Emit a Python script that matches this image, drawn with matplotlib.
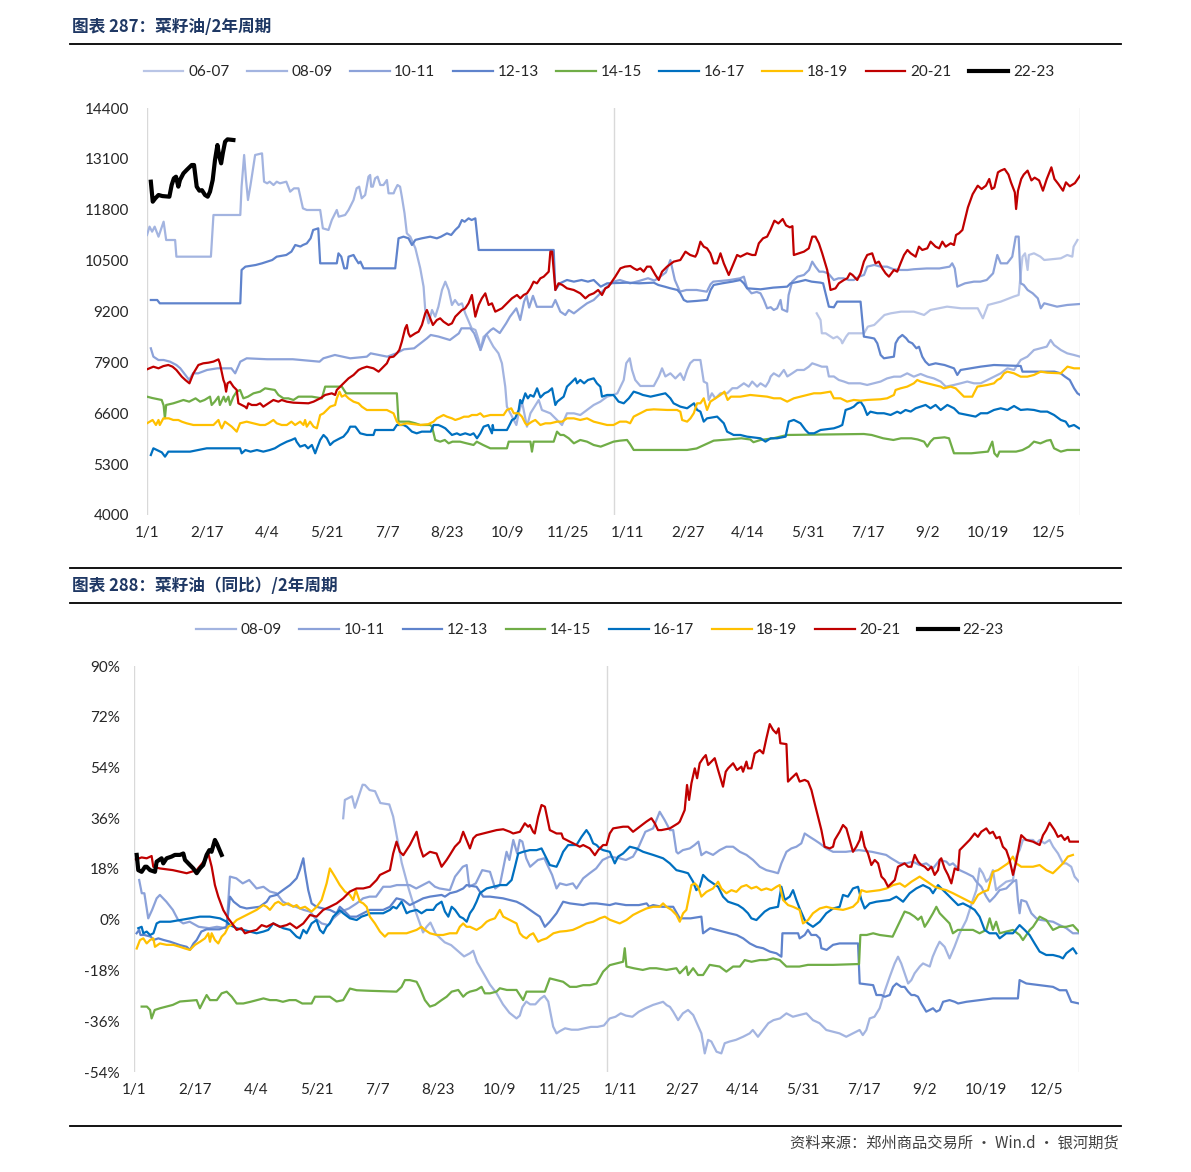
import matplotlib
matplotlib.use('Agg')
import matplotlib.pyplot as plt
from matplotlib.lines import Line2D

plt.rcParams['font.family'] = ['Lato', 'Noto Sans CJK SC', 'DejaVu Sans']

# ---- 数据：交易日序号(0-730, 两年周期) 与 价格 ----
tick_days = [0, 47, 94, 141, 188, 235, 282, 329, 376, 423, 470, 517, 564, 611, 658, 705]
tick_labels = ['1/1', '2/17', '4/4', '5/21', '7/7', '8/23', '10/9', '11/25',
               '1/11', '2/27', '4/14', '5/31', '7/17', '9/2', '10/19', '12/5']
series_names = ['06-07', '08-09', '10-11', '12-13', '14-15', '16-17', '18-19', '20-21', '22-23']

price_0607 = [(524, 9154), (527, 8983), (528, 8643), (531, 8643), (535, 8558), (537, 8515), (540, 8558),
              (543, 8472), (544, 8387), (547, 8558), (549, 8643), (561, 8643), (564, 8813), (569, 8856),
              (573, 8983), (577, 9111), (582, 9154), (590, 9196), (600, 9196), (608, 9111), (613, 9239),
              (626, 9324), (637, 9282), (650, 9282), (654, 9026), (658, 9367), (668, 9452), (678, 9580),
              (682, 9622), (685, 10602), (687, 10687), (689, 10261), (690, 10644), (694, 10687),
              (699, 10602), (702, 10516), (715, 10559), (720, 10644), (724, 10602), (725, 10857), (728, 11027)]

price_0809 = [(0, 11155), (2, 11368), (4, 11240), (6, 11368), (9, 11112), (13, 11495), (15, 11027), (22, 11027),
              (23, 10601), (50, 10601), (52, 11666), (73, 11666), (74, 12390), (76, 13199), (77.5, 12560),
              (79, 12049), (81, 12432), (84.6, 13199), (90, 13241), (91.6, 12517), (94, 12475), (96, 12517),
              (99, 12432), (101.5, 12517), (104, 12475), (109, 12517), (112, 12262), (115, 12347), (118.5, 12347),
              (122, 11836), (125, 11794), (135.5, 11794), (137.6, 11325), (142, 11283), (144.6, 11538),
              (148.5, 11794), (150, 11623), (155, 11666), (157.7, 11794), (161.6, 12049), (164, 12347),
              (166, 12390), (168, 12092), (170.7, 12177), (173.3, 12645), (174.6, 12688), (175.4, 12390),
              (176.7, 12390), (178.5, 12603), (180.4, 12645), (182.5, 12432), (185, 12432), (187.7, 12560),
              (189, 12220), (193, 12220), (194, 12305), (196, 12432), (198, 12390), (199.4, 12134),
              (201.5, 11708), (203.3, 11197), (206, 11112), (210, 10814), (213.8, 10303), (216.4, 9834),
              (217.7, 9238), (220.3, 8898), (223, 9238), (225.5, 9068), (228, 9323), (230.8, 9749),
              (233.4, 9962), (236, 9749), (238.6, 9366), (241, 9494), (243.8, 9366), (246.4, 9409),
              (249, 9153), (254, 8770), (257, 8727), (259.5, 8472), (260.8, 8216), (263.4, 8557), (266, 8600),
              (271, 8302), (275, 8131), (277.7, 7876), (280.3, 7280), (281.6, 6769), (284.3, 6598),
              (289, 6300), (290.8, 6598), (293.4, 6896), (297.3, 6257), (300, 6598), (306.5, 6939),
              (309, 6683), (315.6, 6598), (320.8, 6428), (324.7, 6300), (328.6, 6598), (334, 6598),
              (339, 6555), (344.3, 6683), (349.5, 6811), (354.7, 6896), (360, 7024), (365, 7070),
              (368, 7110), (373, 7450), (375, 7880), (377.7, 8004), (379.5, 7706), (382, 7450), (386, 7297),
              (396.5, 7297), (400.5, 7540), (403, 7748), (405.6, 7540), (409.5, 7620), (413.4, 7490),
              (417.3, 7620), (420, 7450), (422.6, 7706), (425, 7880), (427.8, 7961), (433, 7961),
              (435.6, 7410), (438.2, 7365), (439.5, 6939), (442, 7110), (444.7, 6980), (448.7, 7110),
              (454, 7110), (458, 7240), (461.7, 7240), (467, 7365), (470.8, 7280), (473.5, 7410),
              (477.4, 7280), (480, 7365), (484, 7280), (486.5, 7410), (488, 7540), (490.4, 7620),
              (494.5, 7540), (498.3, 7706), (501, 7540), (504.8, 7620), (508.7, 7706), (514, 7706),
              (517.8, 7790), (520.5, 7876), (524.4, 7833), (528, 7790), (532, 7790), (533.5, 7540),
              (537.4, 7540), (541.3, 7450), (545.3, 7410), (549, 7365), (558, 7365), (563.5, 7323),
              (568.7, 7365), (574, 7410), (579, 7490), (584.4, 7535), (589.6, 7535), (594.8, 7620),
              (600, 7535), (605.3, 7604), (610.5, 7535), (615.7, 7490), (621, 7410), (625, 7280),
              (631.4, 7323), (636.6, 7365), (641.8, 7410), (647, 7365), (652.3, 7365), (657.5, 7450),
              (662.7, 7535), (668, 7620), (673.2, 7748), (678.4, 7706), (683.6, 7961), (688.8, 8046),
              (694, 8216), (699, 8259), (704, 8302), (707, 8472), (709.7, 8344), (715, 8216), (720, 8131),
              (725.3, 8089), (730, 8046)]

price_1011 = [(3, 8259), (5, 8046), (9, 7960), (13, 7961), (18, 7918), (23, 7833), (26, 7750), (30, 7578),
              (33, 7450), (36, 7620), (40, 7620), (47, 7706), (55, 7748), (66, 7748), (69, 7620), (73, 7918),
              (78, 8004), (94, 7980), (114, 7980), (135, 7918), (138, 8004), (147, 8089), (159, 8004),
              (172, 8046), (175, 8131), (188, 8046), (195, 8131), (201, 8233), (209, 8259), (214, 8387),
              (219, 8514), (222, 8600), (228, 8560), (237, 8472), (244, 8642), (246, 8770), (253, 8770),
              (256, 8642), (258, 8472), (261, 8216), (265, 8600), (269, 8727), (271, 8770), (276, 8650),
              (281, 8898), (284, 9068), (289, 9281), (292, 8983), (295, 9450), (297, 9605), (299, 9300),
              (302, 9600), (305, 9320), (317, 9320), (319.5, 9494), (323.4, 9196), (327.3, 9111),
              (330, 9238), (334, 9153), (339, 9281), (344.3, 9409), (349.5, 9494), (354.7, 9664),
              (360, 9834), (365, 9963), (370, 10005), (378, 9920), (385, 9980), (392, 10050), (397, 9990),
              (402, 10100), (406, 10200), (409.5, 10516), (413, 10005), (417, 9707), (422, 9750), (430, 9750),
              (438, 9707), (441, 9900), (443, 9963), (455, 10000), (464, 10048), (467, 10090), (469.5, 9800),
              (473, 9665), (477, 9700), (480, 9665), (482.6, 9495), (485.2, 9282), (488, 9310), (490.4, 9239),
              (493, 9280), (495.7, 9495), (496.9, 9256), (500.9, 9196), (502, 9620), (504.8, 9963),
              (509, 10090), (514, 10133), (518, 10261), (520.5, 10474), (523, 10346), (526, 10218),
              (529, 10218), (533, 10176), (537.4, 10005), (541, 10048), (545, 10048), (549, 10005),
              (553, 10005), (557, 10090), (561, 10133), (563.5, 10346), (569, 10390), (574, 10346),
              (579, 10346), (584, 10280), (589.6, 10261), (595, 10261), (600, 10280), (610, 10300),
              (620, 10300), (628, 10346), (630, 10431), (632, 10300), (634, 9835), (640, 9920), (647, 9963),
              (652, 9963), (657, 10005), (662, 10176), (665.3, 10644), (668, 10431), (673, 10431),
              (677, 10600), (679.7, 11113), (682, 11113), (683.6, 9920), (686, 9878), (689, 9750),
              (693, 9665), (697, 9537), (699.3, 9282), (702, 9410), (707, 9367), (712, 9324), (720, 9367),
              (730, 9392)]

price_1213 = [(3, 9494), (8, 9494), (10, 9409), (73, 9409), (74, 10261), (77, 10346), (85, 10388), (90, 10431),
              (98, 10516), (101.5, 10601), (109, 10644), (113, 10730), (116, 10899), (120, 10860),
              (122, 10899), (125, 10940), (128, 11070), (130, 11283), (134, 11325), (135.5, 10431),
              (148.5, 10431), (149.8, 10686), (152, 10601), (154.3, 10303), (156.4, 10303), (157.7, 10601),
              (161.6, 10644), (163, 10560), (165.5, 10431), (167, 10474), (169.4, 10303), (194.2, 10303),
              (196.8, 11070), (200.7, 11112), (204.6, 11070), (207.3, 10899), (210, 11030), (215, 11070),
              (221.6, 11112), (226.8, 11070), (230, 11112), (234.7, 11197), (238, 11155), (241.2, 11283),
              (244, 11370), (246.4, 11538), (248.5, 11494), (251.6, 11580), (254, 11538), (256.9, 11580),
              (259.5, 10772), (318.2, 10772), (319.5, 9749), (323, 9920), (328.6, 10005), (334, 9963),
              (340, 10005), (345, 9963), (349.5, 10005), (355, 9835), (360, 9920), (376, 9937), (385, 9920),
              (396.5, 9937), (400, 9878), (405, 9835), (409.5, 9793), (415, 9750), (417.3, 9665),
              (420, 9495), (422.6, 9452), (430, 9470), (438.2, 9495), (441, 9750), (443.4, 9878),
              (450, 9920), (458, 9963), (464.3, 10005), (467, 9920), (469.5, 9793), (480, 9767),
              (490, 9810), (500.9, 9835), (503.5, 9920), (510, 9963), (515.2, 10005), (520, 9963),
              (527, 9937), (529, 9920), (530.9, 9665), (533.5, 9324), (537.4, 9307), (540, 9452),
              (558.3, 9452), (560.9, 8558), (566, 8530), (569, 8510), (571.4, 8387), (574, 8089),
              (576.6, 8004), (584.4, 8046), (585.7, 8387), (588, 8520), (591, 8600), (594, 8515),
              (596, 8430), (598.8, 8387), (602, 8260), (604, 8300), (606.6, 8046), (609, 7920),
              (611.8, 7833), (617, 7876), (624, 7833), (631.4, 7748), (634, 7578), (636.6, 7706),
              (645, 7750), (652.3, 7791), (662.7, 7833), (683.6, 7808), (685, 7663), (710, 7663),
              (714.9, 7620), (718, 7540), (722, 7450), (725.4, 7237), (728, 7110), (730, 7067)]

price_1415 = [(0, 7024), (4, 6990), (11.5, 6939), (13, 6800), (14, 6470), (15, 6811), (20.6, 6854), (25, 6900),
              (28.5, 6939), (33, 6896), (38, 6981), (41.5, 6896), (45, 6939), (49.3, 7024), (50.6, 6811),
              (53, 6896), (55.9, 7024), (57, 6811), (60, 7024), (61.5, 6896), (63.7, 7024), (65, 6811),
              (67.6, 7024), (70.2, 7152), (72.8, 7195), (75.4, 6981), (79, 7024), (83.3, 7109), (88.5, 7152),
              (92.4, 7237), (100, 7195), (102.8, 7067), (106.8, 6981), (110.6, 6981), (114.6, 6939),
              (118.5, 7024), (129, 7024), (136.8, 6981), (139.4, 7280), (152.4, 7280), (155.8, 7109),
              (195.5, 7109), (196.8, 6385), (205, 6385), (210, 6343), (213.8, 6300), (221.6, 6300),
              (223, 6257), (225.5, 5917), (229.4, 5874), (233, 5917), (236, 5832), (239, 5874),
              (245, 5874), (250, 5832), (255.5, 5789), (258, 5874), (263, 5789), (268.6, 5704),
              (281.6, 5704), (283, 5874), (300, 5874), (301.2, 5619), (302.5, 5874), (318.2, 5874),
              (320.8, 6130), (323.4, 6045), (326, 6045), (330, 5960), (334, 5832), (339, 5917),
              (344.3, 5874), (349.5, 5789), (355, 5747), (360, 5810), (365, 5874), (370, 5900),
              (375.6, 5917), (378, 5810), (380.8, 5662), (422.6, 5662), (430, 5700), (436, 5790),
              (443.4, 5900), (455, 5930), (465, 5960), (472, 5930), (474.5, 5860), (480, 5917),
              (490, 5960), (500.9, 6045), (560.9, 6070), (567, 6045), (576, 5960), (584, 5917),
              (590, 5960), (598, 5960), (603, 5930), (608, 5874), (610.5, 5747), (613, 5874),
              (615.7, 5960), (624, 5985), (627.5, 5960), (631.4, 5577), (645, 5577), (658, 5620),
              (661.4, 5875), (663, 5577), (665.3, 5492), (667, 5620), (680, 5620), (685, 5660),
              (690, 5747), (694, 5875), (699, 5830), (704, 5900), (707, 5917), (709.7, 5704),
              (715, 5620), (720, 5662), (730, 5662)]

price_1617 = [(3, 5533), (5, 5704), (9, 5640), (11.6, 5600), (14.1, 5491), (16.7, 5619), (33.7, 5619),
              (46.7, 5704), (72.8, 5704), (74.1, 5576), (77, 5660), (81, 5619), (86, 5660), (91, 5619),
              (96, 5660), (100, 5704), (104.2, 5789), (109.4, 5874), (113, 5917), (115.9, 5960),
              (117, 5874), (119.8, 5747), (123.6, 5789), (126, 5704), (129, 5789), (131.6, 5576),
              (133, 5704), (135.5, 5917), (138.1, 6045), (140.7, 5960), (143.3, 5789), (146, 5874),
              (148.5, 5917), (151, 5960), (153.7, 6002), (157, 6130), (159, 6257), (163, 6257),
              (164, 6215), (166.8, 6087), (172, 6045), (177.2, 6045), (178.5, 6172), (192.9, 6172),
              (195.5, 6300), (200.7, 6300), (203.3, 6257), (207.3, 6130), (211, 6087), (215, 6130),
              (222, 6130), (224.2, 6300), (228, 6300), (231, 6257), (233.4, 6215), (236, 6130),
              (238.6, 6045), (242.5, 6087), (245, 6045), (249, 6087), (252.9, 6045), (255.5, 6087),
              (258.2, 5960), (260.8, 6087), (263.4, 6257), (267, 6300), (269.9, 6087), (270.5, 6300),
              (271.2, 6172), (281.6, 6172), (283, 6257), (285.6, 6428), (288, 6470), (290.8, 6683),
              (292, 6939), (293.4, 6854), (296, 7109), (298, 6981), (299.9, 7067), (302.5, 7024),
              (305.2, 7237), (307.8, 7003), (311, 7109), (314, 7152), (316.9, 7237), (319.5, 6811),
              (321, 6896), (326, 7024), (328.6, 7280), (331.3, 7365), (335.2, 7492), (336.5, 7365),
              (339, 7450), (342, 7365), (345, 7450), (349.5, 7492), (352, 7365), (354.7, 7280),
              (356, 7024), (360, 7067), (365, 7067), (369, 6897), (373, 6854), (377, 6982), (380.8, 7152),
              (384.8, 7110), (388, 7067), (394, 7024), (400, 7067), (405.6, 7110), (409.5, 6982),
              (412, 6854), (417.3, 6769), (422.6, 6727), (428, 6854), (430.4, 6684), (433, 6642),
              (435.6, 6386), (438.2, 6470), (446.1, 6514), (448.7, 6430), (451.3, 6344), (453.9, 6130),
              (459, 6045), (464.3, 6045), (469.5, 6002), (480, 5960), (483.9, 5875), (488, 5960),
              (493, 5960), (499.6, 6002), (502.2, 6386), (506.1, 6430), (511.3, 6344), (515.2, 6172),
              (517.8, 6088), (522, 6088), (527, 6172), (537.4, 6215), (541.3, 6258), (544, 6300),
              (546.6, 6684), (550.5, 6727), (553, 6769), (555.7, 6854), (558.3, 6897), (560.9, 6769),
              (563.5, 6556), (566, 6640), (571.4, 6600), (576.6, 6600), (581.8, 6556), (587, 6640),
              (589.6, 6600), (593.5, 6684), (597.5, 6642), (601.4, 6727), (605.3, 6769), (609.2, 6812),
              (613, 6727), (617, 6812), (621, 6684), (626.2, 6812), (631.4, 6727), (635.3, 6600),
              (641.8, 6556), (648.3, 6514), (652.3, 6600), (657.5, 6600), (662.7, 6684), (668, 6727),
              (673.2, 6684), (678.4, 6785), (683.6, 6684), (688.8, 6700), (694, 6684), (699.2, 6642),
              (704.4, 6642), (709.7, 6556), (715, 6428), (718.8, 6386), (721.4, 6258), (725.3, 6300),
              (729.3, 6215)]

price_1819 = [(0, 6343), (4.4, 6428), (7, 6300), (9, 6428), (10, 6300), (12.8, 6470), (17, 6470), (20.6, 6428),
              (24.5, 6428), (27.2, 6385), (31, 6343), (36.3, 6300), (52, 6300), (55.9, 6428), (57.2, 6300),
              (58.5, 6215), (61, 6385), (66.3, 6257), (70.2, 6130), (72.8, 6343), (78, 6385), (83.3, 6343),
              (88.5, 6300), (92.4, 6300), (95, 6343), (98.9, 6428), (101.5, 6343), (105.4, 6300),
              (109.4, 6300), (113, 6385), (115.9, 6300), (119.8, 6385), (122.4, 6300), (123.7, 6428),
              (125, 6257), (127.6, 6385), (130.3, 6257), (132.9, 6215), (135.5, 6555), (138.1, 6598),
              (140.7, 6683), (143.3, 6768), (147.2, 6811), (148.5, 6981), (150.6, 7152), (152.4, 7024),
              (155, 7067), (157.7, 6981), (161.6, 6896), (165.5, 6854), (168.1, 6768), (172, 6683),
              (187.7, 6683), (192.9, 6598), (195.5, 6385), (198.1, 6300), (203.3, 6343), (213.8, 6300),
              (220, 6320), (224.2, 6385), (226.8, 6470), (232, 6555), (234.7, 6512), (238.6, 6470),
              (241.2, 6428), (245.1, 6470), (248, 6512), (251.6, 6512), (254.2, 6555), (258.2, 6555),
              (260.8, 6598), (263.4, 6512), (268.6, 6555), (279, 6555), (281.6, 6683), (285, 6726),
              (287, 6600), (290.8, 6598), (293.4, 6512), (296, 6343), (297.3, 6300), (301.2, 6385),
              (303.8, 6428), (307.8, 6300), (311.7, 6343), (315.6, 6343), (320.8, 6385), (324.7, 6385),
              (328.6, 6470), (333.9, 6470), (339, 6428), (344.3, 6470), (349.5, 6385), (354.7, 6343),
              (360, 6300), (365, 6300), (370, 6386), (375, 6386), (378, 6344), (380.8, 6514), (386, 6600),
              (391, 6684), (396.5, 6700), (407, 6684), (414.7, 6684), (417.3, 6640), (418.7, 6428),
              (422.6, 6386), (425.2, 6470), (427.8, 6600), (430.4, 6854), (433, 6854), (435.6, 6982),
              (438.2, 6684), (440.8, 6897), (444.7, 6982), (448.7, 7067), (451.8, 7152), (454.3, 6940),
              (456.9, 7024), (464.3, 7024), (472, 7067), (480, 7040), (485.2, 7024), (490.4, 6982),
              (495.7, 6982), (500.9, 6897), (506.1, 6982), (511.3, 7024), (516.5, 7067), (521.8, 7110),
              (527, 7110), (534.8, 7152), (537.4, 6982), (542.6, 6982), (547.8, 6897), (553, 6940),
              (558.3, 6922), (563.5, 6940), (573.9, 6957), (579.1, 6982), (584.4, 7067), (585.7, 7195),
              (589.6, 7237), (594.8, 7280), (600, 7365), (602.7, 7450), (605.3, 7410), (610.5, 7365),
              (615.7, 7323), (621, 7280), (623.5, 7237), (628.8, 7280), (632.7, 7237), (636.6, 7110),
              (639.2, 7024), (645.7, 7024), (647, 7110), (649.7, 7280), (657.5, 7323), (662.7, 7365),
              (665.3, 7450), (667.9, 7493), (670.6, 7620), (673.2, 7663), (678.4, 7620), (683.6, 7535),
              (688.8, 7535), (694, 7578), (699.2, 7663), (704.4, 7637), (714.9, 7620), (720.2, 7791),
              (725.3, 7748), (730, 7748)]

price_2021 = [(0, 7722), (5, 7790), (9, 7748), (12.8, 7805), (16.7, 7833), (20, 7790), (23, 7705), (27.2, 7535),
              (30, 7450), (33.2, 7365), (36.3, 7620), (40.2, 7833), (44, 7876), (48, 7892), (52, 7920),
              (55.9, 7977), (57, 7876), (59.8, 7450), (60.8, 7365), (61.9, 7152), (63, 7365), (65, 7407),
              (67.6, 7280), (70.2, 7195), (71.5, 6854), (74.1, 6811), (76.7, 6768), (78, 6726),
              (79.3, 6854), (82, 6811), (85.7, 6811), (88.5, 6854), (91, 6768), (95, 6854), (98.9, 6939),
              (102.8, 6896), (105.4, 6939), (109.4, 6896), (114.6, 6870), (126.3, 6854), (130.3, 6896),
              (132.9, 6939), (135.5, 6981), (139.4, 7067), (144.6, 7109), (147.2, 7067), (148.5, 7195),
              (151.1, 7280), (155, 7407), (157.7, 7492), (161.6, 7578), (165.5, 7706), (168.1, 7748),
              (172, 7790), (177.2, 7748), (181.2, 7663), (182.5, 7706), (185.1, 7790), (187.7, 7876),
              (189.8, 8029), (192.9, 8046), (195.5, 8131), (197.4, 8216), (199.4, 8429), (202, 8770),
              (203.3, 8855), (204.6, 8642), (205.9, 8557), (209.9, 8642), (212.5, 8685), (215.1, 8855),
              (217.7, 9153), (219, 9238), (221.6, 9025), (223.7, 8855), (226.8, 8983), (229.4, 9025),
              (232, 8940), (235.9, 8855), (238.6, 8898), (241.2, 9068), (246.4, 9238), (249, 9281),
              (251.6, 9409), (254.2, 9622), (256.9, 9068), (259.5, 9366), (262, 9536), (264.7, 9664),
              (267.3, 9366), (269.9, 9409), (272.5, 9196), (277.7, 9281), (281.6, 9409), (285.5, 9536),
              (289.5, 9622), (292.1, 9536), (294.7, 9622), (297.3, 9664), (299.9, 9792), (302.5, 9962),
              (305.1, 9920), (307.8, 10048), (310.4, 10090), (313, 10176), (314.3, 10218), (315.6, 10729),
              (317, 10729), (318.2, 10261), (319.5, 9749), (322, 9920), (325, 9878), (328.6, 9792),
              (333.9, 9750), (339, 9664), (343, 9537), (346, 9620), (349.5, 9664), (353, 9750),
              (356, 9622), (358.6, 9792), (361, 9830), (366.4, 10091), (370.4, 10303), (374, 10346),
              (378.2, 10363), (381, 10300), (383.4, 10261), (386, 10303), (388.6, 10218), (391.2, 10346),
              (394, 10346), (397.8, 10133), (400.4, 10005), (403, 10218), (406.9, 10346), (412.1, 10474),
              (417.3, 10516), (421.3, 10729), (425, 10644), (429, 10601), (430.4, 10687), (433, 10984),
              (435.6, 10857), (438.2, 10814), (440.8, 10687), (443.4, 10431), (446, 10431), (448.7, 10687),
              (451.3, 10431), (455.2, 10133), (459, 10431), (461.7, 10644), (464.3, 10601), (469.5, 10687),
              (473.5, 10644), (476, 10644), (478.7, 10942), (482, 11070), (485.2, 11113), (487.8, 11283),
              (490.9, 11521), (494, 11450), (497.4, 11563), (500, 11400), (503, 11350), (505, 11380),
              (506.1, 10644), (510, 10687), (514, 10729), (517.8, 10814), (520.5, 11113), (523, 11113),
              (525.7, 10942), (528.3, 10687), (532.2, 10261), (534.8, 9750), (538.7, 9792), (541.3, 9920),
              (545.3, 10005), (547.9, 10048), (550, 10176), (552, 10133), (555.7, 10005), (558.3, 10176),
              (560.9, 10474), (563.5, 10644), (567.4, 10687), (570, 10431), (572.6, 10474), (575.3, 10303),
              (577.9, 10176), (580.5, 10091), (584.4, 10261), (587, 10218), (589.6, 10431), (592.3, 10644),
              (595, 10772), (597.5, 10687), (601.4, 10601), (604, 10857), (606.6, 10772), (610.5, 10814),
              (613.1, 10985), (617, 10857), (619.8, 10814), (622.3, 10985), (624.9, 10857), (628.8, 10942),
              (631.4, 10900), (633, 11155), (635.3, 11198), (638, 11283), (642.3, 11861), (646, 12197),
              (650, 12415), (653, 12330), (656.4, 12415), (659, 12586), (661, 12330), (663, 12370),
              (665.8, 12756), (668, 12800), (671, 12841), (674, 12700), (676, 12500), (679, 12245),
              (680, 11819), (681.5, 12287), (684, 12586), (686, 12700), (689, 12800), (692, 12550),
              (694.5, 12620), (698, 12550), (701, 12287), (704, 12586), (707.6, 12884), (710, 12586),
              (713, 12460), (716.7, 12287), (719, 12500), (722, 12400), (726, 12480), (730, 12671)]

price_2223 = [(3, 12517), (4.5, 12006), (6.5, 12092), (9, 12177), (12, 12150), (17.5, 12134), (19.3, 12432),
              (21, 12602), (22.7, 12645), (24.5, 12390), (25.8, 12560), (28.5, 12730), (31, 12815),
              (35, 12943), (36.8, 12943), (38.9, 12390), (41, 12287), (43, 12300), (45.4, 12177),
              (47.5, 12134), (49.3, 12262), (51.4, 12560), (53.2, 13071), (55.1, 13454), (56.6, 13156),
              (58, 12986), (59.3, 13241), (61.1, 13539), (63, 13599), (67.6, 13582)]

# ---- 同比(%) ----
yoy_0809 = [(161.6, 36), (162.9, 42.5), (168.4, 43.8), (170.6, 39.7), (176.6, 47.9), (178.4, 47.8), (182, 46),
            (186.2, 45.6), (190.3, 41.4), (197.2, 40.9), (200.2, 36.6), (206.8, 20.2), (212.3, 10.8),
            (217.8, 2.6), (223.3, -4.5), (226, -2.5), (229, -1), (233, -5), (240, -8), (245, -9), (250, -11),
            (255, -13), (259.5, -11.9), (262, -11), (265, -15), (270, -19), (275, -23), (280, -26), (285, -30),
            (290, -33), (295.5, -35), (298, -34), (300, -31), (303, -29), (306, -30), (310, -30), (314, -28),
            (317, -27), (320, -29), (323.8, -37.9), (326.4, -40.3), (329, -39.5), (333, -38.5), (338, -39),
            (343, -39), (348, -38.5), (353, -38), (358, -38), (363, -37.5), (367.5, -35), (372, -34.4),
            (376, -33.2), (380, -34), (385, -34.4), (390, -32.6), (395, -31.4), (401, -30.2), (408.7, -29.1),
            (411.5, -30.3), (414, -30.9), (416.5, -32.6), (420.3, -35.6), (424, -33.2), (428, -32),
            (432, -33.8), (436, -37.9), (438.3, -40.3), (440.9, -47.4), (443.5, -42.6), (446, -43.2),
            (450, -46.8), (453.7, -47.4), (456.3, -43.8), (460, -43.2), (465, -42.6), (470.5, -41.5),
            (475.6, -40.3), (478, -39.1), (482, -41.5), (486, -39.1), (490, -36.7), (494, -35.6), (499, -35),
            (504, -33.2), (509, -34.4), (514, -33.8), (519.4, -33.2), (524.5, -35.6), (529.6, -36.7),
            (534.8, -39.1), (540, -39.7), (545, -40.3), (550.2, -41.5), (555.4, -40.3), (560.5, -39.1),
            (563, -40.9), (565.7, -39.1), (568.3, -35), (572, -34.4), (576, -31.4), (580, -25.2),
            (583.8, -20.2), (587.6, -15.5), (590.2, -13.1), (592.7, -15.5), (595.3, -19), (598, -22.6),
            (600.5, -21.4), (603, -19), (607, -16.6), (609.5, -15.5), (614.7, -16.6), (617, -13.1),
            (619.8, -10.1), (622.3, -7.8), (626.2, -9.6), (630, -13.7), (633.8, -9.6), (637.8, -4.8),
            (643, -0.1), (648, 7), (650.7, 10.5), (653.2, 18.2), (655.8, 16.4), (658.4, 13.5), (661, 14.7),
            (663.5, 17.6), (666, 10.5), (668.7, 11.7), (673.8, 13.5), (679, 14.1), (681.5, 22.4),
            (684.1, 24.7), (686.7, 28.3), (694.5, 28.3), (697, 27.1), (699.6, 28.3), (703.4, 27.1),
            (707.3, 28.3), (710, 25.9), (713.8, 23.5), (717.6, 20), (720.2, 20), (724, 18.8), (726.6, 15.3),
            (730, 13.5)]

yoy_1011 = [(4, 14.1), (6, 9.4), (8, 9.4), (11, 0.5), (14, 3.5), (17.5, 7.6), (20, 8.8), (25, 6.4), (30, 3.5),
            (34, 0), (38, -1.3), (43, -0.7), (50, -2.5), (58, -3), (64, -2.5), (71.5, -3), (74.1, 15.3),
            (79, 14.7), (84, 12.9), (89, 14.1), (94.7, 11.1), (100, 11.7), (105, 10), (110, 9.4), (115, 6.4),
            (120, 5.2), (125, 4.6), (131, 3.5), (136, 2.9), (140, 0.5), (145, -1.3), (150, -1.9), (154, 0.5),
            (160, 2.9), (166, 4), (172, 5.8), (177, 7.6), (182, 8.2), (187, 8.2), (192.5, 11.7), (198, 11.7),
            (203, 12.3), (213, 12.3), (218, 11.1), (223, 12.3), (228, 13.5), (232.5, 11.7), (236, 11.1),
            (244, 10.5), (248, 15.3), (254, 18.8), (257, 19.4), (259, 11.7), (264, 12.9), (269, 17.6),
            (275, 17), (279, 11.1), (282.6, 12.3), (287.8, 24.1), (290, 21.2), (293, 28.3), (296, 23.5),
            (298, 28.3), (300, 27.7), (303, 21.8), (306, 18.8), (312, 21.2), (317, 21.8), (320, 18.8),
            (323, 15.9), (326.4, 11.1), (329, 12.9), (334, 12.3), (339, 12.9), (341.8, 11.1), (347, 14.7),
            (352, 16.5), (357, 18.2), (362, 21.2), (367.5, 22.4), (375, 21.8), (380, 21.2), (385.5, 22.4),
            (390, 26), (395, 31.2), (401, 32.4), (406.1, 38.3), (410, 35.3), (414, 31.8), (416.5, 31.8),
            (419, 24.1), (420.3, 23.5), (424, 24.7), (429.3, 25.3), (433, 26.5), (436, 27.7), (438.3, 22.9),
            (442, 24.1), (447.3, 23), (452.4, 24.7), (457.6, 25.9), (462.8, 25.9), (468, 24.1), (473.1, 23),
            (478.2, 21.2), (483.4, 18.8), (488.5, 17.6), (493.7, 17), (497.5, 16.5), (500.1, 20), (504, 24.1),
            (507.8, 25.3), (511.7, 25.9), (515.5, 27.1), (518.1, 30.6), (522, 29.4), (525.8, 28.3),
            (529.7, 27.1), (534.8, 25.3), (540, 24.1), (550, 24.1), (560, 24.7), (570, 24.1), (581, 23),
            (584.9, 21.8), (591.4, 20), (596.5, 20), (601.7, 20.6), (606.9, 19.4), (612, 20), (617.2, 18.2),
            (622.4, 21.2), (627.5, 20.6), (630, 19.4), (632.6, 20), (637.8, 17.6), (643, 16.5), (648.1, 15.3),
            (650.7, 13.5), (654.5, 11.7), (658.4, 8.2), (661, 6.4), (664.8, 8.2), (668.7, 10.5),
            (673.8, 11.1), (679, 13.5), (681.5, 14.1), (682.8, 7), (684.1, 2.3), (685.4, 7), (689.3, 6.4),
            (693.2, 2.3), (697, 0.5), (699.6, 0), (709.9, -0.7), (715, -1.9), (720.2, -3), (725.3, -4.8),
            (730, -4.8)]

yoy_1213 = [(2, -4.8), (4, -3.6), (5, -5.4), (8, -5.4), (13, -6), (15, -7.2), (18.8, -6.6), (23, -7.2),
            (28, -7.8), (35.5, -9), (40.7, -9.6), (43.2, -10.7), (46, -8.4), (48.4, -7.2), (52, -4.2),
            (56, -3.4), (66, -3.4), (71.6, -2.5), (74.1, 8.2), (77, 6.4), (82, 4.6), (87, 4), (97, 4.6),
            (102.5, 6.4), (105, 8.2), (110, 8.8), (115, 10.5), (120.5, 12.3), (125.6, 14.7), (128, 17.6),
            (130.8, 21.8), (132, 17.6), (134.6, 10.5), (137.2, 5.8), (141, 4.6), (146, 4), (151.3, 3.5),
            (156.5, 2.3), (159, 4.6), (161.6, 3.5), (166.8, 1.1), (172, 1.1), (177, 2.3), (182.2, 3.5),
            (192.5, 3.5), (197.7, 4.6), (202.8, 7.6), (208, 7), (213, 5.2), (218.3, 6.4), (223.4, 7.6),
            (228.6, 8.2), (237.6, 8.8), (240.2, 8.2), (244, 9.4), (249.2, 10), (254.3, 11.1), (256.9, 12.3),
            (264.6, 11.7), (269.8, 8.2), (275, 8.2), (285, 7.6), (290.3, 7), (295.5, 6.4), (300.6, 5.2),
            (305.8, 3.5), (309.6, 2.3), (313.5, 1.1), (317.4, -2.5), (321.2, -0.7), (326.4, 2.3),
            (331.5, 6.4), (336.7, 5.8), (347, 5.2), (352.2, 5.8), (357.3, 5.8), (367.5, 5.2), (372, 5.8),
            (380, 5.2), (390, 5.2), (396, 5.8), (398, 4.6), (401, 5.2), (408, 4.6), (416.5, 4.6),
            (421.6, 0.5), (430, 0.5), (438.3, 1.1), (439.6, -4.8), (445, -3), (450, -3.6), (455, -4.2),
            (460, -4.8), (465.5, -5.4), (470.6, -6.6), (475.7, -8.4), (480.9, -9.6), (486, -10.1),
            (491.2, -11.3), (496.3, -11.9), (500.1, -13.1), (500.9, -4.8), (513, -4.8), (514.2, -6.6),
            (518.1, -5.4), (520.6, -3.6), (523.2, -5.4), (527, -5.4), (529.7, -6.6), (531, -10.1),
            (535, -10.7), (540, -8.9), (545, -8.4), (559.3, -8.4), (560.6, -22.6), (571, -23.2),
            (573.5, -26.7), (577.3, -26.7), (580, -27.3), (583.8, -26.7), (586.3, -23.8), (589, -22.6),
            (592.7, -23.8), (595.3, -23.8), (598, -25.5), (600.5, -26.7), (603, -26.7), (605.6, -27.3),
            (608.2, -29.7), (612, -32.6), (614.7, -32), (617.2, -31.4), (619.8, -32.6), (622.4, -32),
            (625, -29.1), (630, -28.5), (634, -29.1), (636.6, -29.7), (643, -29.1), (653, -28.5),
            (663.5, -27.9), (682.8, -27.9), (684.1, -21.4), (689.3, -22.6), (699.6, -23.2), (709.9, -23.8),
            (715, -25), (720.2, -25), (724, -29.1), (730, -29.7)]

yoy_1415 = [(5.9, -30.8), (10, -30.8), (12.4, -32), (13.6, -35), (16, -32), (20, -31.4), (25, -30.8), (30, -30.2),
            (35.5, -29), (48.4, -28.5), (50.9, -31.4), (53.5, -29), (56.1, -26.7), (58.7, -28.5), (64, -28.5),
            (67.7, -26.1), (71.6, -25.5), (75.5, -27.3), (79.3, -29.7), (84.4, -29.7), (90, -29.1),
            (95, -28.5), (100, -27.9), (105, -28.5), (110, -28.5), (115, -29.1), (120, -28.5), (125, -28.5),
            (130, -29.7), (137.2, -29.7), (139.8, -27.3), (151.3, -27.3), (156.5, -29), (161.6, -28.5),
            (166.8, -24.4), (172, -25), (182, -25.2), (202.8, -25.5), (206.7, -23.8), (209.3, -21.4),
            (213, -21.4), (218.3, -22), (221, -24.4), (224.7, -28.5), (228.6, -30.8), (232.5, -30.2),
            (237.6, -28.5), (241.5, -27.3), (245.4, -25.5), (250.5, -24.9), (254.3, -27.3), (257, -26.1),
            (259.5, -25.5), (264.6, -24.9), (268.5, -23.8), (271, -26.1), (275, -26.1), (280, -25.5),
            (282.6, -24.3), (288, -24.9), (295.5, -24.9), (300.6, -28.5), (303.2, -25.5), (317.4, -25.5),
            (321.2, -20.8), (326.4, -21.4), (331.5, -22), (336.7, -23.8), (341.8, -23.8), (347, -23.2),
            (352.2, -23.2), (357.3, -22.6), (362.4, -18.4), (367.5, -16.1), (372.5, -15.5), (377.8, -14.9),
            (379.1, -10.1), (380.4, -16.6), (386, -17.2), (393, -17.8), (398.4, -17.2), (403.5, -17.2),
            (411.3, -17.8), (419, -17.2), (421.6, -19), (426.7, -16.6), (428, -19.6), (431.9, -17.2),
            (435.7, -19.6), (439.6, -19.6), (444.7, -16), (452.4, -16.6), (457.6, -18.4), (462.8, -16.6),
            (468, -16.6), (471.8, -14.3), (477, -14.9), (483.4, -14.3), (488.5, -14.3), (493.7, -13.7),
            (498.8, -14.3), (504, -16.6), (514, -16.6), (520.6, -16), (540, -16), (560.1, -15.7),
            (561.1, -5.4), (566, -5.4), (571, -4.8), (576, -5.4), (586, -6), (591.5, -0.7), (595.3, 2.9),
            (599, 2.3), (603, 1.1), (605.6, 0), (608.2, 1.1), (610.8, -2.5), (613.4, -0.7), (617.2, 2.3),
            (619.8, 4.6), (622.4, 2.3), (626.2, 0.5), (630, -1.3), (632.6, -4.8), (636.4, -3.6),
            (648.1, -3.6), (653.2, -4.8), (658.4, -3.6), (661, 0.5), (663.5, -3.6), (666, -0.7),
            (668.7, -4.8), (673.8, -4.2), (679, -3.6), (684.1, -5.4), (686.7, -7.2), (692, -3.6),
            (694.5, -2.5), (699.6, 1.1), (704.7, -0.1), (709.9, -3.6), (715, -2.5), (720.2, -2.5),
            (725.3, -1.9), (730, -4.2)]

yoy_1617 = [(3.3, -3), (5.9, -2.5), (7.2, -4.8), (9.8, -4.2), (12.4, -5.4), (15, -4.8), (17.5, -1.3), (20, -0.7),
            (28, -0.7), (35.5, -0.1), (43.2, 0.5), (50.9, 1.1), (58.6, 1.1), (66.4, 0.5), (71.6, -0.7),
            (74.1, -1.9), (79.3, -3), (84.4, -3.6), (89.6, -4.2), (94.7, -4.8), (99.9, -4.2), (103.7, -3.6),
            (107.6, -1.3), (110.2, -1.9), (115.3, -3), (120.5, -3.6), (125.6, -6), (128.2, -6.6),
            (130.8, -3.6), (133.3, -4.8), (137.2, -1.3), (141, -0.1), (143.6, -3.6), (146.2, -4.8),
            (148.7, -2.5), (151.3, -1.3), (153.9, 1.1), (156.5, 2.3), (159, 3.4), (161.6, 2.3), (166.8, 0.5),
            (172, -0.1), (175.8, 1.1), (179.7, 1.7), (182.2, 2.3), (192.5, 2.3), (197.7, 3.5), (200.2, 4.6),
            (202.8, 4), (206.7, 6.4), (210.6, 2.3), (213.1, 2.9), (218.3, 3.5), (222.1, 2.3), (226, 3.5),
            (231.2, 3.5), (233.7, 5.2), (237.6, 6.4), (240.2, 2.9), (242.8, 1.1), (245.4, 4.6), (248, 3.5),
            (251.7, 1.1), (254.3, 0.5), (257, -0.7), (259.5, 2.3), (262.1, 4), (264.6, 6.4), (267.2, 9.4),
            (272.4, 11.1), (277.5, 11.7), (282.7, 12.3), (287.8, 12.3), (291.7, 14.1), (294.3, 18.8),
            (296.8, 23.5), (300.6, 24.1), (305.8, 24.7), (311, 24.7), (314.8, 25.3), (317.4, 22.9),
            (321.2, 19.4), (326.4, 18.8), (328.9, 21.2), (331.5, 24.1), (335.4, 26.5), (341.8, 26.5),
            (345.7, 29.4), (349.5, 31.8), (352.1, 30), (354.7, 27.1), (357.3, 26.5), (359.8, 25.3),
            (362.4, 24.7), (367.5, 24.1), (371.4, 20), (374, 22.4), (377.8, 23.5), (383, 25.9),
            (388.1, 25.3), (393.3, 24.1), (401, 23), (408.7, 21.8), (413.9, 20), (419, 17.6), (424.2, 17),
            (428, 16.5), (431.9, 13.5), (434.4, 10.5), (437, 11.7), (439.6, 15.9), (443.5, 14.1),
            (447.3, 12.9), (451.2, 11.7), (455, 8.2), (458.9, 6.4), (462.8, 5.8), (466.6, 5.2), (470.5, 4),
            (474.3, 2.3), (476.9, 0.5), (480.8, -0.1), (483.4, 1.1), (487.2, 2.9), (491.1, 4), (497.5, 4.6),
            (500.1, 11.7), (502.7, 7), (506.5, 8.2), (509.1, 10.5), (511.7, 7), (514.2, 4), (518.1, -0.1),
            (520.6, -1.3), (524.5, -2.5), (529.7, -0.7), (534.8, 2.3), (540, 4), (545.1, 4.6), (547.7, 8.8),
            (551.5, 8.2), (555.4, 11.1), (559.3, 11.7), (561.9, 7), (564.4, 4), (568.3, 5.8), (573.5, 6.4),
            (583.8, 7), (588.9, 8.2), (594.1, 6.4), (599.2, 9.4), (604.3, 11.1), (609.5, 12.3),
            (614.7, 11.1), (617.2, 9.4), (621.1, 12.3), (625, 10.5), (628.8, 8.8), (632.7, 7), (636.6, 5.2),
            (640.4, 5.8), (645.5, 4.6), (649.4, 3.5), (653.2, 1.1), (657.1, -3.6), (660.9, -4.8),
            (666.1, -4.8), (668.7, -6.6), (673.8, -4.8), (679, -4.8), (684.1, -1.9), (688, -3.6),
            (691.8, -5.4), (695.7, -8.4), (699.6, -11.3), (704.7, -12.5), (709.9, -12.5), (715, -13.1),
            (717.6, -13.7), (720.2, -11.9), (725.3, -10.1), (727.9, -11.9)]

yoy_1819 = [(2.1, -10.2), (4.6, -7.2), (7.2, -6.6), (9.8, -8.4), (12.4, -7.2), (14.9, -6.6), (16.2, -9.6),
            (20, -8.4), (25.2, -8.9), (30.4, -8.9), (35.5, -9.6), (39.4, -10.2), (43.2, -10.7), (47.1, -8.9),
            (51, -7.8), (54.8, -6.6), (57.4, -4.8), (58.7, -7.8), (60, -4.8), (62.5, -7.2), (65.1, -8.4),
            (67.7, -6), (70.3, -4.8), (72.8, -2.5), (76.7, -1.3), (79.3, -0.1), (84.4, 1.1), (89.6, 2.3),
            (94.7, 3.5), (99.9, 5.2), (102.5, 4.6), (105, 3.5), (108.9, 5.8), (111.5, 6.4), (115.3, 5.2),
            (119.2, 5.8), (123, 4.6), (125.6, 5.2), (128.2, 4), (132.1, 4.6), (137.2, 2.9), (141.1, 4.6),
            (144.9, 7), (148.8, 12.9), (151.3, 18.2), (155.2, 15.3), (159, 12.3), (162.9, 10), (166.8, 8.8),
            (169.3, 7), (171.4, 10.5), (174.5, 6.4), (177.1, 5.8), (179.7, 4.6), (182.2, 1.1), (186.1, -1.3),
            (190, -4.2), (193.8, -6), (196.4, -4.8), (210.6, -4.8), (214.4, -4.2), (218.3, -3.6),
            (222.1, -2.5), (224.7, -3.6), (228.6, -4.8), (233.7, -5.4), (238.8, -5.4), (244, -4.8),
            (249.2, -4.8), (251.7, -2.5), (254.3, -1.3), (256.9, -2.5), (259.5, -2.5), (264.6, -3.6),
            (268.5, -2.5), (272.4, -0.7), (274.9, -0.1), (278.8, 0.5), (282.6, 3.5), (285.2, 1.1),
            (287.8, 0.5), (292.9, -0.7), (295.5, -1.3), (298.1, -4.8), (300.6, -6), (303.2, -6.6),
            (305.8, -5.4), (308.4, -4.8), (312.2, -7.8), (314.8, -7.2), (318.7, -6.6), (324, -4.8),
            (329, -4.2), (334, -4), (339, -3.6), (344.4, -2.5), (349.5, -1.3), (354.7, -0.7), (359.8, 0.5),
            (363.7, 1.1), (367.5, 0), (375.2, -1.3), (380.4, -0.1), (385.5, 1.7), (390.7, 2.9), (395.9, 4),
            (401, 4.6), (406.1, 4.6), (408.7, 5.8), (411.3, 4.6), (415.2, 3.5), (419, 1.7), (421.6, -0.7),
            (424.2, 2.3), (426.7, 3.5), (430.6, 12.3), (433.2, 12.9), (435.7, 11.7), (438.3, 8.2),
            (442.2, 9.9), (447.3, 11.1), (451.2, 13.5), (453.7, 11.1), (457.6, 9.4), (461.5, 10.5),
            (465.3, 9.9), (469.2, 11.7), (473.1, 12.3), (476.9, 11.1), (480.8, 11.7), (484.6, 10.5),
            (488.5, 11.1), (492.4, 10.5), (496.3, 11.7), (498.8, 12.3), (501.4, 7), (505.3, 5.2),
            (509.1, 4.6), (514.2, 3.5), (516.8, -1.3), (520.7, -0.1), (524.5, 2.3), (529.7, 4),
            (534.8, 4.6), (540, 4), (547.7, 3.5), (551.5, 4), (555.4, 4.6), (559.3, 6.4), (561.9, 10.5),
            (565.8, 9.9), (576.1, 10.5), (581.3, 11.1), (586.4, 12.3), (591.6, 12.9), (595.5, 11.7),
            (600.6, 13.5), (606.9, 15.3), (610.8, 14.1), (614.7, 12.9), (618.5, 11.7), (622.4, 11.1),
            (627.5, 10.5), (632.7, 9.4), (637.8, 8.2), (643, 7), (648.1, 5.8), (652, 8.8), (655.8, 9.9),
            (659.7, 10.5), (663.5, 17), (667.4, 17.6), (671.2, 18.8), (675.1, 20), (678.9, 22.4),
            (681.5, 20), (685.4, 18.8), (694.4, 18.8), (699.6, 19.4), (704.7, 17.6), (709.8, 16.5),
            (713.7, 18.2), (717.6, 20), (721.4, 22.4), (725.3, 23)]

yoy_2021 = [(1.5, 21.4), (5.9, 22.1), (9.8, 21.8), (13.6, 22.6), (14.9, 18.8), (20, 18.2), (30, 17.6),
            (40.7, 16.5), (48.4, 17.6), (54.8, 21.2), (57.4, 23.5), (60, 18.8), (62.5, 12.3), (65.1, 8.2),
            (69, 3.4), (72.8, 0.5), (76.7, -1.9), (79.3, -3.6), (83, -3), (85.7, -4.8), (89.6, -4.2),
            (94.7, -3.6), (98.6, -1.9), (102.5, -2.5), (107.6, -1.3), (112.7, -2.5), (117.9, -1.9),
            (120.5, -1.3), (125.6, -3), (130.8, -1.3), (135.9, 1.7), (141, 1.1), (146.2, 3.5), (151.3, 4.6),
            (156.5, 5.8), (161.6, 7.6), (166.8, 10), (171.9, 11.1), (177.1, 11.1), (182.2, 11.7),
            (187.4, 14.1), (190, 15.9), (195.1, 17), (197.7, 17.6), (200.2, 23.5), (202.8, 27.7),
            (205.4, 24.1), (208, 22.9), (213.1, 26.5), (218.3, 31.2), (220.8, 25.9), (223.4, 22.4),
            (228.6, 24.1), (233.7, 23.5), (237.6, 18.8), (241.5, 21.2), (244, 23), (247.9, 25.9),
            (251.7, 27.7), (254.3, 31.2), (256.9, 28.3), (259.5, 25.3), (262.1, 28.9), (264.6, 30),
            (269.8, 30.6), (274.9, 31.2), (280.1, 31.8), (285.2, 32.1), (290.4, 31.2), (292.9, 30.6),
            (298.1, 31.2), (301.9, 34.2), (304.5, 33), (305.8, 33.6), (308.3, 31.2), (309.6, 30.6),
            (312.2, 36.5), (314.8, 40.7), (317.4, 40.1), (321.2, 31.8), (326.4, 30.6), (330.2, 30.6),
            (331.5, 28.9), (336.7, 27.7), (341.8, 26.5), (344.4, 25.9), (347, 26.5), (352.1, 25.3),
            (356, 22.9), (358.6, 24.7), (362.4, 26.5), (365, 26.5), (367.5, 30.6), (370.1, 32.4),
            (377.8, 33), (381.7, 33), (385.5, 31.2), (390.7, 33), (395.8, 34.8), (399.7, 36), (402.3, 34.2),
            (404.8, 31.8), (407.4, 31.8), (413.9, 32.4), (420.3, 34.2), (421.6, 34.8), (425.4, 38.9),
            (427.2, 47.8), (428.8, 42.5), (430.6, 48.4), (433.2, 53.7), (435, 50.2), (437, 55.5),
            (439.6, 57.3), (441.7, 58.4), (443.5, 54.9), (446.1, 56.1), (448.6, 57.3), (451.2, 53.1),
            (455, 47.2), (457.1, 52.5), (458.9, 53.7), (462.8, 55.5), (465.8, 53.1), (469.2, 54.3),
            (470.5, 52.5), (473.1, 56.1), (474.3, 53.7), (476.9, 53.7), (479.5, 59), (483.4, 60.2),
            (486, 59), (488.5, 64.3), (491.1, 69.4), (493.7, 67.3), (496.2, 66.1), (498, 67.9),
            (499.3, 62.6), (504, 62.3), (505.2, 49), (507.8, 50.2), (511.7, 51.9), (514.2, 49),
            (518.1, 49.6), (520.7, 49), (523.3, 46), (525.8, 41.3), (528.4, 36.6), (531, 31.8),
            (533.5, 25.9), (537.4, 25.3), (540, 25.9), (541.3, 28.3), (545.1, 31.2), (547.7, 33.6),
            (550.3, 32.4), (552.8, 28.3), (555.4, 24.1), (558, 25.9), (560.6, 28.3), (561.9, 31.2),
            (564.4, 25.9), (567, 23.5), (569.6, 19.4), (572.2, 21.2), (574.8, 20), (577.4, 15.3),
            (579.9, 14.1), (582.5, 11.7), (585.1, 12.9), (587.7, 14.1), (590.2, 18.8), (592.8, 19.4),
            (595.3, 20), (598, 18.8), (600.5, 18.8), (603.1, 23), (605.7, 20.6), (608.2, 19.4),
            (610.8, 18.8), (613.4, 17.6), (616, 18.8), (618.5, 15.9), (621.1, 17.6), (622.4, 21.2),
            (623.6, 21.8), (626.2, 18.2), (628.8, 15.9), (631.4, 12.9), (634, 18.2), (636.6, 17.6),
            (637.8, 24.7), (641.7, 26.5), (645.5, 28.3), (649.4, 30.6), (651.9, 29.4), (654.5, 31.2),
            (658.4, 32.4), (661, 30.6), (663.5, 31.2), (666.1, 28.9), (668.7, 29.4), (671.2, 25.9),
            (673.8, 24.7), (676.4, 21.2), (679, 15.9), (681.5, 20.6), (684.1, 27.1), (685.4, 30),
            (689.3, 28.3), (694.4, 27.7), (699.6, 26.5), (702.2, 30), (704.7, 31.8), (707.3, 34.4),
            (711.1, 31.8), (713.7, 29.4), (716.3, 30), (718.9, 28.3), (721.4, 29.4), (722.7, 27.7),
            (730, 27.7)]

yoy_2223 = [(2.1, 23), (3.3, 17.6), (5.9, 17), (8.5, 18.8), (9.8, 18.8), (12.4, 17.6), (16.2, 17), (17.5, 20.6),
            (21.3, 21.8), (22.6, 20), (25.2, 21.8), (29, 22.4), (31.6, 23), (35.5, 23), (38.1, 23.5),
            (39.4, 21.2), (40.7, 20.6), (43.2, 19.4), (45.8, 18.2), (48.4, 16.5), (51, 18.2), (53.5, 19.4),
            (56.1, 23), (58.2, 24.7), (59.9, 24.1), (62.5, 28.3), (64, 27), (67.7, 23)]

# ---- 样式 ----
colors = {'06-07': '#B9C5E6', '08-09': '#A3B4E0', '10-11': '#8CA2D9', '12-13': '#5F83CC',
          '14-15': '#70AD47', '16-17': '#0070C0', '18-19': '#FFC000', '20-21': '#C00000', '22-23': '#000000'}
W, H = 1191, 1172
navy = '#1F3864'
txt = '#262626'

fig = plt.figure(figsize=(W / 100, H / 100), dpi=100)


def px_axes(left, top, right, bottom):
    return fig.add_axes([left / W, 1 - bottom / H, (right - left) / W, (bottom - top) / H])


def style_axis(ax, ypad):
    for s in ax.spines.values():
        s.set_visible(False)
    ax.set_xlim(0, 730)
    for d in (0, 365, 730):
        ax.axvline(d, color='#D9D9D9', lw=1.0, zorder=0)
    ax.set_xticks(tick_days)
    ax.set_xticklabels(tick_labels)
    ax.tick_params(axis='both', length=0, labelsize=11, labelcolor=txt)
    ax.tick_params(axis='y', pad=ypad)
    ax.tick_params(axis='x', pad=8)


def draw(ax, name, pts):
    xs, ys = zip(*pts)
    lw = 3.0 if name == '22-23' else 1.6
    return ax.plot(xs, ys, color=colors[name], lw=lw, label=name, solid_joinstyle='round')[0]


# ---- 图表 287 ----
ax1 = px_axes(147, 108, 1080, 515)
style_axis(ax1, 13)
ax1.set_ylim(4000, 14400)
ax1.set_yticks([4000, 5300, 6600, 7900, 9200, 10500, 11800, 13100, 14400])
top_data = [price_0607, price_0809, price_1011, price_1213, price_1415,
            price_1617, price_1819, price_2021, price_2223]
h1 = [draw(ax1, n, p) for n, p in zip(series_names, top_data)]

# ---- 图表 288 ----
ax2 = px_axes(134, 666, 1079, 1072)
style_axis(ax2, 10)
ax2.set_ylim(-54, 90)
ax2.set_yticks([-54, -36, -18, 0, 18, 36, 54, 72, 90])
ax2.set_yticklabels([f'{v}%' for v in [-54, -36, -18, 0, 18, 36, 54, 72, 90]])
yoy_data = [yoy_0809, yoy_1011, yoy_1213, yoy_1415, yoy_1617, yoy_1819, yoy_2021, yoy_2223]
h2 = [draw(ax2, n, p) for n, p in zip(series_names[1:], yoy_data)]

leg_kw = dict(loc='center', ncol=9, frameon=False, fontsize=11, handlelength=2.6,
              handletextpad=0.3, columnspacing=1.15, labelcolor=txt)
fig.legend(handles=h1, bbox_to_anchor=(599 / W, 1 - 72 / H), **leg_kw)
leg_kw['ncol'] = 8
fig.legend(handles=h2, bbox_to_anchor=(600 / W, 1 - 630 / H), **leg_kw)

# ---- 标题与分隔线 ----
cjk = ['Noto Sans CJK SC', 'DejaVu Sans']
for yy in (44, 568, 603, 1126):
    fig.add_artist(Line2D([70 / W, 1121 / W], [1 - yy / H] * 2, color='black', lw=1.3))
fig.text(72 / W, 1 - 27 / H, '图表 287：菜籽油/2年周期', family=cjk, fontsize=12,
         fontweight='bold', color=navy, va='center', ha='left')
fig.text(72 / W, 1 - 586 / H, '图表 288：菜籽油（同比）/2年周期', family=cjk, fontsize=12,
         fontweight='bold', color=navy, va='center', ha='left')
fig.text(1119 / W, 1 - 1143 / H, '资料来源：郑州商品交易所 · Win.d · 银河期货', family=cjk,
         fontsize=11, color='#404040', va='center', ha='right')

fig.savefig('out.png', dpi=100)
